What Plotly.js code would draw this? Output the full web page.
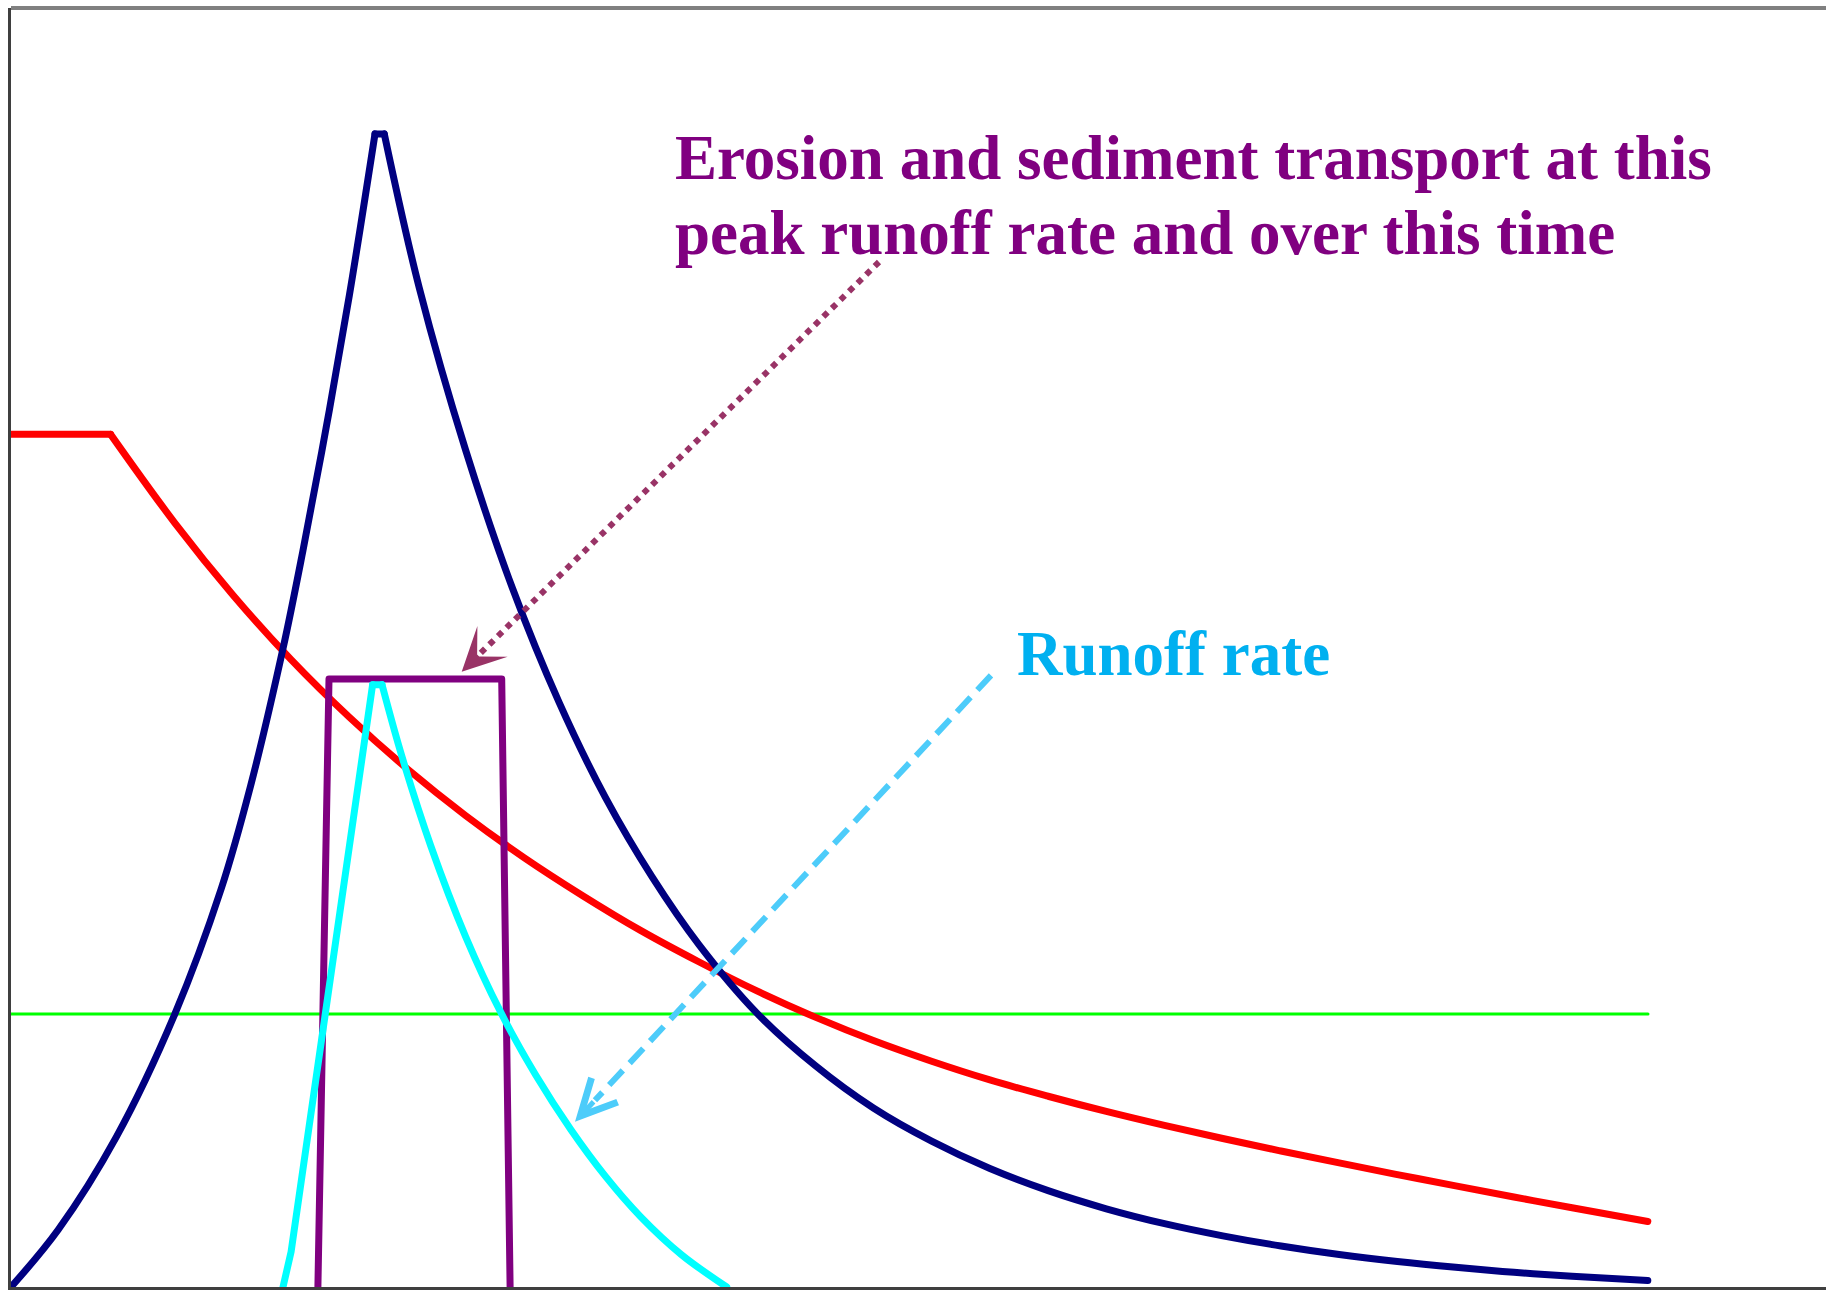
<!DOCTYPE html>
<html>
<head>
<meta charset="utf-8">
<script src="https://cdn.plot.ly/plotly-3.0.1.min.js"></script>
<style>
  html, body { margin: 0; padding: 0; background: #ffffff; overflow: hidden; }
  #chart { width: 1826px; height: 1293px; }
  .scatterlayer path.js-line { stroke-linecap: round; stroke-linejoin: round; }
</style>
</head>
<body>
<div id="chart"></div>
<script>
// ---- data (time axis in arbitrary units, values in arbitrary units) ----
// Rainfall intensity (red): constant, then decaying
const rainFlatT = [0, 9.96];
const rainFlatV = [85.33, 85.33];
const rainT = [9.96, 16.37, 22.19, 28.01, 33.84, 39.66, 45.48, 51.30, 57.13, 62.95, 68.77, 74.59, 80.42, 86.24, 92.06,
  97.89, 103.71, 109.53, 115.35, 121.18, 127.0, 132.82, 138.64, 144.47, 150.29, 156.11, 163.68];
const rainV = [85.33, 76.48, 69.26, 62.79, 57.02, 51.83, 47.17, 42.98, 39.19, 35.69, 32.55, 29.63, 27.01, 24.66, 22.59,
  20.72, 19.09, 17.57, 16.17, 14.86, 13.61, 12.42, 11.25, 10.12, 9.01, 7.93, 6.56];

// Threshold (green)
const thresholdT = [0, 163.7];
const thresholdV = [27.32, 27.32];

// Navy hydrograph: rising limb, peak, recession
const navyUpT = [0, 4.72, 10.55, 16.37, 21.03, 23.94, 27.20, 29.18, 31.51, 33.84, 36.40];
const navyUpV = [0, 5.73, 15.05, 27.29, 39.88, 50.08, 63.89, 73.62, 85.97, 99.26, 115.40];
const navyPeakT = [36.40, 37.33];
const navyPeakV = [115.40, 115.40];
const navyDownT = [37.33, 40.82, 45.48, 50.14, 54.80, 59.45, 64.11, 68.77, 74.59, 80.42, 86.24, 92.06, 97.89,
  103.71, 109.53, 115.35, 121.18, 127.0, 132.82, 138.64, 144.47, 150.29, 156.11, 163.68];
const navyDownV = [115.40, 100.02, 83.70, 69.95, 58.53, 48.97, 41.04, 34.29, 27.41, 22.16, 17.91, 14.59, 11.85,
  9.64, 7.83, 6.34, 5.12, 4.10, 3.25, 2.55, 1.97, 1.47, 1.07, 0.65];

// Erosion / sediment transport window (purple)
const erosionT = [30.69, 31.80, 49.07, 49.91];
const erosionV = [0, 60.86, 60.86, 0];

// Runoff rate (cyan): rising limb, peak, recession
const runoffUpT = [27.20, 28.01, 36.16];
const runoffUpV = [0, 3.52, 60.28];
const runoffPeakT = [36.16, 37.10];
const runoffPeakV = [60.28, 60.28];
const runoffDownT = [37.10, 39.08, 41.99, 45.48, 48.97, 52.47, 55.96, 59.45, 62.95, 67.02, 71.57];
const runoffDownV = [60.28, 53.14, 44.11, 35.02, 27.50, 21.21, 15.79, 11.07, 7.05, 3.26, 0];

// Annotation texts and arrow points: [tail x, tail y], [tip x, tip y]
const erosionLabel1 = "Erosion and sediment transport at this";
const erosionLabel2 = "peak runoff rate and over this time";
const runoffLabel = "Runoff rate";
const erosionLabelPos = [66.2, 113.0, 105.5];   // x, y line1, y line2
const runoffLabelPos = [100.4, 63.4];
const erosionArrowTail = [86.8, 102.58];
const erosionArrowTip = [45.07, 61.58];
const runoffArrowTail = [98.0, 61.21];
const runoffArrowTip = [56.4, 16.54];

// ---- colours ----
const C = {
  rain: '#ff0000', thr: '#00ff00', navy: '#000080', purple: '#800080',
  cyan: '#00ffff', purpleArrow: '#993366', cyanArrow: '#4dccfa', runoffText: '#00b0f0'
};

function tr(x, y, color, width, shape) {
  return { x: x, y: y, type: 'scatter', mode: 'lines', hoverinfo: 'skip',
    line: { color: color, width: width, shape: shape || 'linear', smoothing: 1 }, showlegend: false };
}
// point a fraction f of the way from tip back towards tail (collinear)
function back(tip, tail, f) { return [tip[0] + f * (tail[0] - tip[0]), tip[1] + f * (tail[1] - tip[1])]; }

const W = 7;
const data = [
  tr(thresholdT, thresholdV, C.thr, 3),
  tr(rainFlatT, rainFlatV, C.rain, W),
  tr(rainT, rainV, C.rain, W, 'spline'),
  tr(navyUpT, navyUpV, C.navy, W, 'spline'),
  tr(navyPeakT, navyPeakV, C.navy, W),
  tr(navyDownT, navyDownV, C.navy, W, 'spline'),
  tr(erosionT, erosionV, C.purple, W),
  tr(runoffUpT, runoffUpV, C.cyan, W),
  tr(runoffPeakT, runoffPeakV, C.cyan, W),
  tr(runoffDownT, runoffDownV, C.cyan, W, 'spline')
];

const eEnd = back(erosionArrowTip, erosionArrowTail, 0.038);
const rEnd = back(runoffArrowTip, runoffArrowTail, 0.048);

const textFont = { family: 'Liberation Serif, Times New Roman, serif', size: 63, weight: 'bold' };

const layout = {
  width: 1826, height: 1293,
  margin: { l: 11, r: 0, t: 8, b: 6, pad: 0 },
  paper_bgcolor: '#ffffff', plot_bgcolor: '#ffffff',
  xaxis: { range: [0, 181.5], showgrid: false, zeroline: false, showticklabels: false, ticks: '',
    showline: true, linecolor: '#3f3f3f', linewidth: 3, fixedrange: true },
  yaxis: { range: [0, 128], showgrid: false, zeroline: false, showticklabels: false, ticks: '',
    showline: true, linecolor: '#3f3f3f', linewidth: 3, fixedrange: true },
  shapes: [
    { type: 'line', xref: 'paper', yref: 'paper', x0: 0, x1: 1, y0: 1, y1: 1,
      line: { color: '#808080', width: 4 } },
    { type: 'line', xref: 'x', yref: 'y', x0: erosionArrowTail[0], y0: erosionArrowTail[1], x1: eEnd[0], y1: eEnd[1],
      line: { color: C.purpleArrow, width: 6, dash: '6px,6px' } },
    { type: 'line', xref: 'x', yref: 'y', x0: runoffArrowTail[0], y0: runoffArrowTail[1], x1: rEnd[0], y1: rEnd[1],
      line: { color: C.cyanArrow, width: 6, dash: '20px,10px' } }
  ],
  annotations: [
    { x: erosionLabelPos[0], y: erosionLabelPos[1], xref: 'x', yref: 'y', text: erosionLabel1,
      showarrow: false, xanchor: 'left', yanchor: 'middle', font: Object.assign({ color: C.purple }, textFont) },
    { x: erosionLabelPos[0], y: erosionLabelPos[2], xref: 'x', yref: 'y', text: erosionLabel2,
      showarrow: false, xanchor: 'left', yanchor: 'middle', font: Object.assign({ color: C.purple }, textFont) },
    { x: runoffLabelPos[0], y: runoffLabelPos[1], xref: 'x', yref: 'y', text: runoffLabel,
      showarrow: false, xanchor: 'left', yanchor: 'middle', font: Object.assign({ color: C.runoffText }, textFont) },
    { x: erosionArrowTip[0], y: erosionArrowTip[1], xref: 'x', yref: 'y', axref: 'x', ayref: 'y',
      ax: eEnd[0], ay: eEnd[1], text: '', showarrow: true,
      arrowhead: 3, arrowsize: 1.8, arrowwidth: 4, arrowcolor: C.purpleArrow, standoff: 0 },
    { x: runoffArrowTip[0], y: runoffArrowTip[1], xref: 'x', yref: 'y', axref: 'x', ayref: 'y',
      ax: rEnd[0], ay: rEnd[1], text: '', showarrow: true,
      arrowhead: 5, arrowsize: 1.4, arrowwidth: 5, arrowcolor: C.cyanArrow, standoff: 0 }
  ]
};

Plotly.newPlot('chart', data, layout, { staticPlot: true, displayModeBar: false });
</script>
</body>
</html>
